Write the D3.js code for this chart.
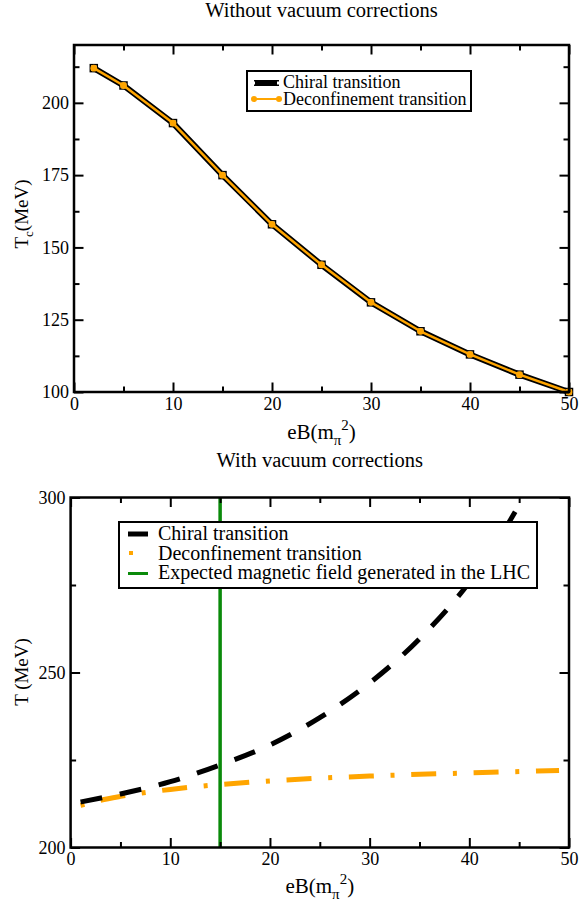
<!DOCTYPE html>
<html><head><meta charset="utf-8">
<script src="https://cdn.jsdelivr.net/npm/d3@7"></script>
</head><body style="margin:0">
<svg id="c" width="579" height="909"></svg>
<script>
// ---------- data ----------
const topEB = [2, 5, 10, 15, 20, 25, 30, 35, 40, 45, 50];
const topChiral = [212, 206, 193, 175, 158, 144, 131, 121, 113, 106, 100];
const topDeconf = [212, 206, 193, 175, 158, 144, 131, 121, 113, 106, 100];

const botChiralEB = [1, 5, 10, 15, 20, 25, 30, 35, 40, 42.5, 45, 46];
const botChiral = [213, 215.3, 218.8, 223.6, 229.3, 237.1, 247, 259.6, 275.8, 286, 297.8, 302.5];
const botDeconfEB = [1, 3, 5, 10, 15, 20, 25, 30, 35, 40, 45, 49];
const botDeconf = [212, 213.5, 214.6, 216.6, 218, 219, 219.8, 220.4, 220.9, 221.3, 221.7, 222];
const lhcEB = [15];

const xTicks = [0, 10, 20, 30, 40, 50];
const xMinor = [5, 15, 25, 35, 45];
const topYTicks = [100, 125, 150, 175, 200];
const topYMinor = [112.5, 137.5, 162.5, 187.5, 212.5];
const botYTicks = [200, 250, 300];
const botYMinor = [225, 275];

const titles = ["Without vacuum corrections", "With vacuum corrections"];
const legendTop = ["Chiral transition", "Deconfinement transition"];
const legendBot = ["Chiral transition", "Deconfinement transition", "Expected magnetic field generated in the LHC"];

// ---------- setup ----------
const FONT = '"Liberation Serif"';
const ORANGE = "#ffa500", GREEN = "#0a8a0a";
const svg = d3.select("#c").style("font-family", FONT);

function txt(parent, size) {
  return parent.append("text").style("font-family", FONT).attr("font-size", size).attr("fill", "#000");
}

const P1 = {l: 74, r: 569, t: 45, b: 392};
const P2 = {l: 70.6, r: 569, t: 497.5, b: 847.5};

const x1 = d3.scaleLinear().domain([0, 50]).range([P1.l, P1.r]);
const y1 = d3.scaleLinear().domain([100, 220]).range([P1.b, P1.t]);
const x2 = d3.scaleLinear().domain([0, 50]).range([P2.l, P2.r]);
const y2 = d3.scaleLinear().domain([200, 300]).range([P2.b, P2.t]);

function axes(p, x, y, yt, ym) {
  const g = svg.append("g");
  const mk = (axis, tr, vals, size, labels) => {
    const a = g.append("g").attr("transform", tr)
      .call(axis.tickValues(vals).tickSize(size).tickPadding(5)
        .tickFormat(labels ? d3.format("d") : ""));
    a.select(".domain").remove();
    a.attr("font-family", null).style("font-family", FONT).attr("font-size", 18);
    a.selectAll("line").attr("stroke", "#000").attr("stroke-width", 2);
    a.selectAll("text").attr("fill", "#000").style("font-family", FONT);
  };
  mk(d3.axisBottom(x), `translate(0,${p.b})`, xTicks, -9.5, true);
  mk(d3.axisBottom(x), `translate(0,${p.b})`, xMinor, -5.5, false);
  mk(d3.axisTop(x), `translate(0,${p.t})`, xTicks, -9.5, false);
  mk(d3.axisTop(x), `translate(0,${p.t})`, xMinor, -5.5, false);
  mk(d3.axisLeft(y), `translate(${p.l},0)`, yt, -9.5, true);
  mk(d3.axisLeft(y), `translate(${p.l},0)`, ym, -5.5, false);
  mk(d3.axisRight(y), `translate(${p.r},0)`, yt, -9.5, false);
  mk(d3.axisRight(y), `translate(${p.r},0)`, ym, -5.5, false);
  g.append("rect").attr("x", p.l).attr("y", p.t).attr("width", p.r - p.l).attr("height", p.b - p.t)
    .attr("fill", "none").attr("stroke", "#000").attr("stroke-width", 2.5);
}

function xLabel(cx, by) {
  const t = txt(svg, 21).attr("x", cx).attr("y", by).attr("text-anchor", "middle");
  t.append("tspan").text("eB(m");
  t.append("tspan").attr("font-size", 15).attr("dy", 6).text("\u03c0");
  t.append("tspan").attr("font-size", 15).attr("dy", -15).text("2");
  t.append("tspan").attr("dy", 9).text(")");
}

function title(cx, by, s) {
  txt(svg, 20.5).attr("x", cx).attr("y", by).attr("text-anchor", "middle").text(s);
}

// ---------- top panel ----------
title((P1.l + P1.r) / 2, 17, titles[0]);
const line1 = d3.line().x((d, i) => x1(topEB[i])).y(d => y1(d));
svg.append("path").datum(topChiral).attr("d", line1).attr("fill", "none")
  .attr("stroke", "#000").attr("stroke-width", 6).attr("stroke-linejoin", "round");
svg.append("g").selectAll("rect").data(topChiral).join("rect")
  .attr("x", (d, i) => x1(topEB[i]) - 3.5).attr("y", d => y1(d) - 3.5)
  .attr("width", 7).attr("height", 7).attr("fill", "#fff").attr("stroke", "#000").attr("stroke-width", 1.5);
svg.append("path").datum(topDeconf).attr("d", line1).attr("fill", "none")
  .attr("stroke", ORANGE).attr("stroke-width", 2.5).attr("stroke-linejoin", "round");
svg.append("g").selectAll("circle").data(topDeconf).join("circle")
  .attr("cx", (d, i) => x1(topEB[i])).attr("cy", d => y1(d)).attr("r", 3.4).attr("fill", ORANGE);
axes(P1, x1, y1, topYTicks, topYMinor);

// legend top
const lg1 = svg.append("g");
lg1.append("rect").attr("x", 247).attr("y", 71).attr("width", 224).attr("height", 40)
  .attr("fill", "#fff").attr("stroke", "#000").attr("stroke-width", 2);
lg1.append("line").attr("x1", 254).attr("x2", 279).attr("y1", 83).attr("y2", 83)
  .attr("stroke", "#000").attr("stroke-width", 6);
[254, 279].forEach(px => lg1.append("rect").attr("x", px - 2).attr("y", 81.5).attr("width", 3).attr("height", 3)
  .attr("fill", "#fff"));
lg1.append("line").attr("x1", 254).attr("x2", 279).attr("y1", 99).attr("y2", 99)
  .attr("stroke", ORANGE).attr("stroke-width", 2);
[254, 279].forEach(px => lg1.append("circle").attr("cx", px).attr("cy", 99).attr("r", 3).attr("fill", ORANGE));
legendTop.forEach((s, i) => txt(lg1, 18).attr("x", 283).attr("y", 88 + i * 17).text(s));

// y label top
{
  const t = txt(svg, 19).attr("transform", "translate(28,214) rotate(-90)").attr("text-anchor", "middle");
  t.append("tspan").text("T");
  t.append("tspan").attr("font-size", 13).attr("dy", 5).text("c");
  t.append("tspan").attr("dy", -5).text("(MeV)");
}
xLabel((P1.l + P1.r) / 2, 439);

// ---------- bottom panel ----------
title((P2.l + P2.r) / 2, 467, titles[1]);
svg.append("clipPath").attr("id", "clip2").append("rect")
  .attr("x", P2.l).attr("y", P2.t).attr("width", P2.r - P2.l).attr("height", P2.b - P2.t);
const gd = svg.append("g").attr("clip-path", "url(#clip2)");
gd.append("path").datum(botDeconf)
  .attr("d", d3.line().curve(d3.curveMonotoneX).x((d, i) => x2(botDeconfEB[i])).y(d => y2(d)))
  .attr("fill", "none").attr("stroke", ORANGE).attr("stroke-width", 5)
  .attr("stroke-dasharray", "4,16.7,25,16.7");
gd.append("path").datum(botChiral)
  .attr("d", d3.line().curve(d3.curveMonotoneX).x((d, i) => x2(botChiralEB[i])).y(d => y2(d)))
  .attr("fill", "none").attr("stroke", "#000").attr("stroke-width", 5)
  .attr("stroke-dasharray", "22,18");
gd.selectAll("line.lhc").data(lhcEB).join("line").attr("class", "lhc")
  .attr("x1", d => x2(d)).attr("x2", d => x2(d)).attr("y1", y2(200)).attr("y2", y2(300))
  .attr("stroke", GREEN).attr("stroke-width", 3.5);
axes(P2, x2, y2, botYTicks, botYMinor);

// legend bottom
const lg2 = svg.append("g");
lg2.append("rect").attr("x", 119).attr("y", 522).attr("width", 418).attr("height", 66)
  .attr("fill", "#fff").attr("stroke", "#000").attr("stroke-width", 2);
lg2.append("line").attr("x1", 128).attr("x2", 148).attr("y1", 534).attr("y2", 534)
  .attr("stroke", "#000").attr("stroke-width", 5);
lg2.append("line").attr("x1", 129).attr("x2", 133).attr("y1", 553).attr("y2", 553)
  .attr("stroke", ORANGE).attr("stroke-width", 4);
lg2.append("line").attr("x1", 128).attr("x2", 148).attr("y1", 573.5).attr("y2", 573.5)
  .attr("stroke", GREEN).attr("stroke-width", 3);
legendBot.forEach((s, i) => txt(lg2, 20).attr("x", 158).attr("y", 540 + i * 19.5).text(s));

txt(svg, 19).attr("transform", "translate(28,672) rotate(-90)").attr("text-anchor", "middle").text("T (MeV)");
xLabel((P2.l + P2.r) / 2, 893);
</script>
</body></html>
